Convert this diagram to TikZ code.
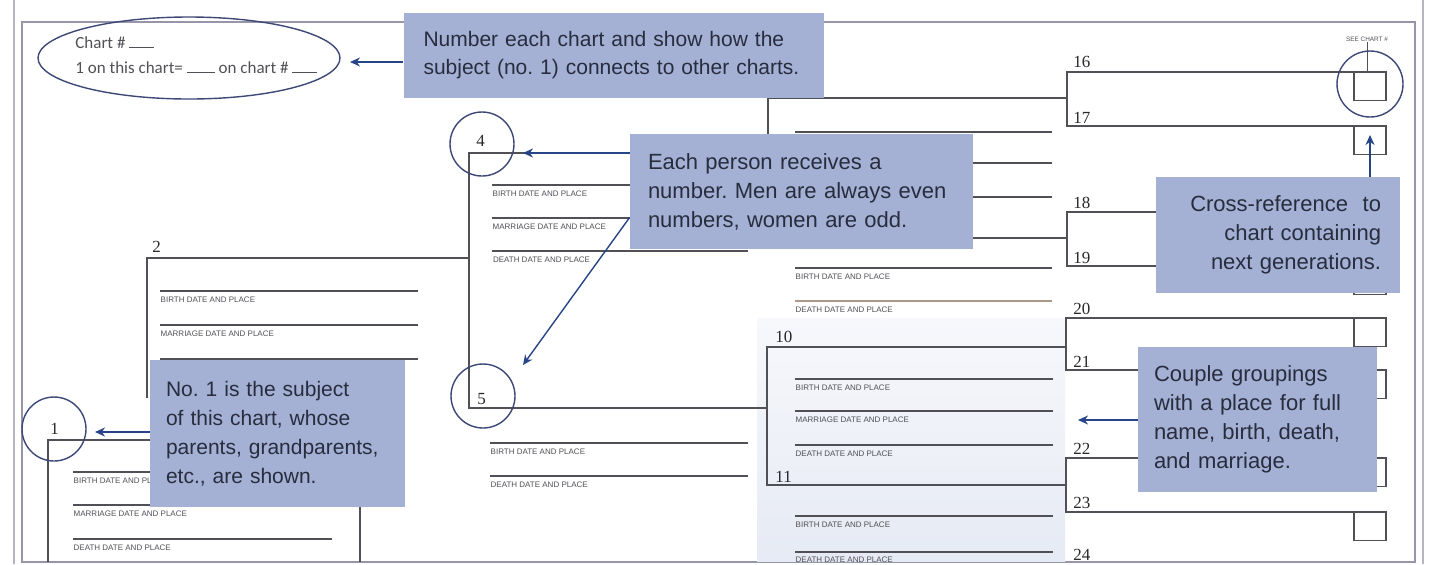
\documentclass[tikz,border=0pt]{standalone}
\usepackage{fontspec}
\setmainfont{Liberation Serif}
\newfontfamily\notefont{Liberation Sans}
\newfontfamily\chartfont{Carlito}
\usetikzlibrary{calc,arrows.meta,shapes.geometric}
\frenchspacing

\definecolor{notefill}{RGB}{164,177,213}
\definecolor{notetext}{RGB}{40,45,62}
\definecolor{pointblue}{RGB}{38,68,135}
\definecolor{ringblue}{RGB}{60,72,118}
\definecolor{formgray}{RGB}{80,80,86}
\definecolor{framegray}{RGB}{150,150,168}
\definecolor{shadetop}{RGB}{247,248,252}
\definecolor{shadebot}{RGB}{230,234,244}
\definecolor{tanline}{RGB}{172,152,134}

\begin{document}
\begin{tikzpicture}[x=0.5pt, y=-0.5pt, every node/.style={inner sep=0pt}, tree/.style={formgray, line width=0.8pt}, entry/.style={formgray, line width=0.7pt}, field/.style={anchor=north west, font=\notefont\fontsize{4}{4}\selectfont, text=formgray}, num/.style={anchor=south west, font=\fontsize{8.5}{9}\selectfont, text=formgray!50!black}, ring/.style={circle, draw=ringblue, line width=0.7pt, minimum size=32pt}, xref/.style={rectangle, draw=formgray, line width=0.7pt, minimum width=16pt, minimum height=14pt, anchor=north}, note/.style={rectangle, fill=notefill, text=notetext, inner xsep=9pt, align=left, font=\notefont\fontsize{11}{14.5}\selectfont}, pointer/.style={-{Stealth[length=5pt,width=4.5pt]}, pointblue, line width=0.7pt}]

    \useasboundingbox (0,0) rectangle (1429,564);

    % Frame and shaded couple
    \draw[framegray!70, line width=0.9pt] (14,0) -- (14,564);
    \draw[framegray!70, line width=0.9pt] (1423,0) -- (1423,564);
    \draw[framegray, line width=0.6pt] (22,22) rectangle (1415,562);
    \shade[top color=shadetop, bottom color=shadebot] (757,318) rectangle (1065,561);

    % Squares for next charts
    \node[xref] (s16) at (1370,72) {};
    \node[xref] (s17) at (1370,126) {};
    \node[xref] (s18) at (1370,212) {};
    \node[xref] (s19) at (1370,266) {};
    \node[xref] (s20) at (1370,318) {};
    \node[xref] (s21) at (1370,370) {};
    \node[xref] (s22) at (1370,458) {};
    \node[xref] (s23) at (1370,512) {};

    % Brackets
    \draw[tree] (48,562) -- (48,440) -- (360,440) -- (360,562);
    \draw[tree] (147,398) -- (147,258) -- (469,258);
    \draw[tree] (768,153) -- (469,153) -- (469,408) -- (767,408);
    \draw[tree] (1067,98) -- (768,98) -- (768,238) -- (1067,238);
    \draw[tree] (1067,347) -- (767,347) -- (767,485) -- (1067,485);
    \draw[tree] (s16.north east) -- (1067,72) -- (1067,126) -- (s17.north east);
    \draw[tree] (s18.north east) -- (1067,212) -- (1067,266) -- (s19.north east);
    \draw[tree] (s20.north east) -- (1066,318) -- (1066,370) -- (s21.north east);
    \draw[tree] (s22.north east) -- (1066,458) -- (1066,512) -- (s23.north east);

    % Entry lines
    \draw[entry] (73,472) -- (332,472) node[field] (b1f) at (73,477) {BIRTH DATE AND PLACE};
    \draw[entry] (73,505) -- (332,505) node[field] (m1f) at (73,510) {MARRIAGE DATE AND PLACE};
    \draw[entry] (73,539) -- (332,539) node[field] (d1f) at (73,544) {DEATH DATE AND PLACE};
    \draw[entry] (160,291) -- (418,291) node[field] (b2f) at (160,296) {BIRTH DATE AND PLACE};
    \draw[entry] (160,325) -- (418,325) node[field] (m2f) at (160,330) {MARRIAGE DATE AND PLACE};
    \draw[entry] (160,359) -- (418,359);
    \draw[entry] (492,185) -- (748,185) node[field] (b4f) at (492,190) {BIRTH DATE AND PLACE};
    \draw[entry] (492,218) -- (748,218) node[field] (m4f) at (492,223) {MARRIAGE DATE AND PLACE};
    \draw[entry, line width=1pt] (492,251) -- (748,251) node[field] (d4f) at (492,256) {DEATH DATE AND PLACE};
    \draw[entry] (490,443) -- (748,443) node[field] (b5f) at (490,448) {BIRTH DATE AND PLACE};
    \draw[entry] (490,476) -- (748,476) node[field] (d5f) at (490,481) {DEATH DATE AND PLACE};
    \draw[entry] (795,132) -- (1052,132);
    \draw[entry] (795,163) -- (1052,163);
    \draw[entry] (795,197) -- (1052,197);
    \draw[entry] (795,268) -- (1052,268) node[field] (b9f) at (795,273) {BIRTH DATE AND PLACE};
    \draw[entry, tanline] (795,301) -- (1052,301) node[field] (d9f) at (795,306) {DEATH DATE AND PLACE};
    \draw[entry] (795,379) -- (1053,379) node[field] (b10f) at (795,384) {BIRTH DATE AND PLACE};
    \draw[entry] (795,411) -- (1053,411) node[field] (m10f) at (795,416) {MARRIAGE DATE AND PLACE};
    \draw[entry] (795,445) -- (1053,445) node[field] (d10f) at (795,450) {DEATH DATE AND PLACE};
    \draw[entry] (795,516) -- (1053,516) node[field] (b11f) at (795,521) {BIRTH DATE AND PLACE};
    \draw[entry] (795,552) -- (1053,552) node[field] (d11f) at (795,556) {DEATH DATE AND PLACE};

    % Numbers
    \node[num] (n1) at (50,435) {1};
    \node[num] (n2) at (152,253) {2};
    \node[num] (n4) at (476,147) {4};
    \node[num] (n5) at (477,405) {5};
    \node[num] (n10) at (775,343) {10};
    \node[num] (n11) at (775,483) {11};
    \node[num] (n16) at (1073,68) {16};
    \node[num] (n17) at (1073,124) {17};
    \node[num] (n18) at (1073,209) {18};
    \node[num] (n19) at (1073,264) {19};
    \node[num] (n20) at (1073,315) {20};
    \node[num] (n21) at (1073,368) {21};
    \node[num] (n22) at (1073,455) {22};
    \node[num] (n23) at (1073,509) {23};
    \node[num] (n24) at (1073,561) {24};

    % Chart number and cross-reference
    \node[anchor=north west, align=left, text=formgray, font=\chartfont\fontsize{8.5}{12.5}\selectfont] (chartno) at (75,36) {Chart \# \rule{12.5pt}{0.5pt}\\1 on this chart= \rule{14pt}{0.5pt} on chart \# \rule{12.5pt}{0.5pt}};
    \node[ellipse, draw=ringblue, line width=0.7pt, minimum width=151pt, minimum height=41pt] (ell) at (189,58) {};
    \node[font=\notefont\fontsize{3.2}{3.2}\selectfont, text=formgray] (see) at (1367,39) {SEE CHART \#};
    \draw[formgray, line width=0.4pt] (see.south) -- (see.south |- s16.north);

    % Rings
    \node[ring] (c1) at (54,429) {};
    \node[ring] (c4) at (482,144) {};
    \node[ring] (c5) at (483,396) {};
    \node[ring, minimum size=33pt] (c16) at (1370,84) {};

    % Notes
    \node[note, inner xsep=10pt, text width=190pt, minimum height=42.5pt, font=\notefont\fontsize{10.5}{14}\selectfont] (b1) at (613.5,55.5) {Number each chart and show how the\\subject (no.~1) connects to other charts.};
    \node[note, text width=153.5pt, minimum height=57.5pt] (b2) at (801.5,191.5) {Each person receives a\\number. Men are always even\\numbers, women are odd.};
    \node[note, align=right, inner xsep=9.5pt, text width=103pt, minimum height=58pt] (b3) at (1278,235) {Cross-reference~~to\\chart containing\\next generations.};
    \node[note, inner xsep=8pt, text width=103.5pt, minimum height=72.5pt] (b4) at (1257.5,419.5) {Couple groupings\\with a place for full\\name, birth, death,\\and marriage.};
    \node[note, inner xsep=8pt, text width=111.5pt, minimum height=73.5pt, font=\notefont\fontsize{10.5}{14.5}\selectfont] (b5) at (277.5,433.5) {No. 1 is the subject\\of this chart, whose\\parents, grandparents,\\etc., are shown.};

    % Pointers
    \coordinate (tipE) at (350,62);
    \coordinate (tip4) at (523,153);
    \coordinate (tip5) at (523,365);
    \coordinate (tip17) at (1370,135);
    \coordinate (tipC) at (1078,420);
    \coordinate (tip1) at (95,432);
    \draw[pointer] (b1.west |- tipE) -- (tipE);
    \draw[pointer] (b2.west |- tip4) -- (tip4);
    \draw[pointer] ($(b2.west)+(0,26)$) -- (tip5);
    \draw[pointer] (b3.north -| tip17) -- (tip17);
    \draw[pointer] (b4.west |- tipC) -- (tipC);
    \draw[pointer] (b5.west |- tip1) -- (tip1);

\end{tikzpicture}
\end{document}
